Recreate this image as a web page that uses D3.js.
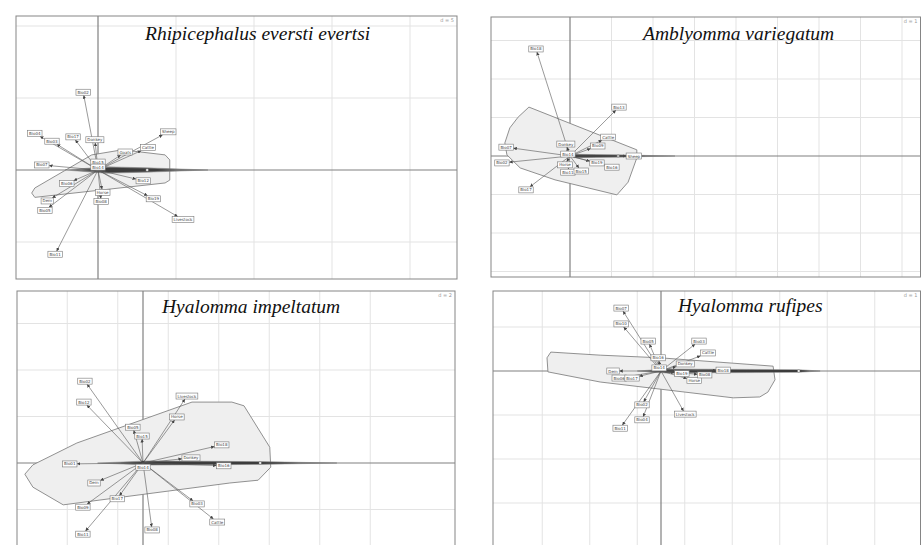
<!DOCTYPE html>
<html>
<head>
<meta charset="utf-8">
<script src="https://cdn.jsdelivr.net/npm/d3@7"></script>
<style>
  body { margin: 0; background: #fff; }
</style>
</head>
<body>
<svg id="chart" width="921" height="545"></svg>
<script>
// titles and scale notes
const titles = ["Rhipicephalus eversti evertsi", "Amblyomma variegatum", "Hyalomma impeltatum", "Hyalomma rufipes"];
const dLabels = ["d = 5", "d = 1", "d = 2", "d = 1"];

// panel 1 : R. evertsi evertsi (coordinates in grid units)
const evertsiNames = ["Bio02", "Bio04", "Bio03", "Bio17", "Donkey", "Bio15", "Bio14", "Goats", "Cattle", "Sheep",
  "Bio07", "Bio06", "Dem", "Bio05", "Horse", "Bio08", "Bio12", "Bio19", "Livestock", "Bio11"];
const evertsiX = [-0.19, -0.81, -0.59, -0.32, -0.04, 0, 0, 0.35, 0.64, 0.90, -0.72, -0.40, -0.65, -0.68, 0.06, 0.04, 0.58, 0.71, 1.09, -0.55];
const evertsiY = [1.08, 0.51, 0.40, 0.46, 0.42, 0.11, 0.04, 0.25, 0.31, 0.53, 0.07, -0.19, -0.43, -0.56, -0.31, -0.44, -0.15, -0.40, -0.69, -1.17];
const evertsiHull = [[-0.81, -0.25], [-0.08, 0.21], [0.31, 0.28], [0.86, 0.21], [0.92, 0.14], [0.92, -0.14], [0.86, -0.18], [-0.81, -0.38], [-0.85, -0.32]];
const evertsiSpindle = [-0.42, 1.41, 0.63];   // left tip, right tip, centre dot

// panel 2 : A. variegatum
const variegatumNames = ["Bio18", "Bio13", "Cattle", "Bio09", "Donkey", "Bio14", "Bio07", "Bio02", "Sheep", "Bio19",
  "Bio16", "Horse", "Bio11", "Bio15", "Bio17"];
const variegatumX = [-0.82, 1.18, 0.92, 0.67, -0.10, -0.05, -1.54, -1.64, 1.54, 0.65, 1.01, -0.12, -0.05, 0.27, -1.06];
const variegatumY = [2.78, 1.27, 0.49, 0.26, 0.31, 0.05, 0.23, -0.18, 0, -0.18, -0.29, -0.23, -0.42, -0.39, -0.88];
const variegatumHull = [[-0.99, 1.27], [1.61, 0.16], [1.61, -0.05], [1.40, -0.68], [1.13, -1.01], [-0.36, -0.62], [-1.20, -0.31],
  [-1.52, 0.03], [-1.57, 0.34], [-1.45, 0.73], [-1.25, 1.01]];
const variegatumSpindle = [0.05, 2.53, 1.16];

// panel 3 : H. impeltatum
const impeltatumNames = ["Bio02", "Bio12", "Livestock", "Horse", "Bio05", "Bio15", "Bio18", "Donkey", "Bio01", "Bio14",
  "Bio16", "Dem", "Bio17", "Bio09", "Bio03", "Cattle", "Bio11", "Bio08"];
const impeltatumX = [-1.15, -1.17, 0.87, 0.67, -0.20, -0.02, 1.56, 0.95, -1.45, 0, 1.60, -0.97, -0.51, -1.19, 1.07, 1.47, -1.19, 0.18];
const impeltatumY = [1.76, 1.31, 1.44, 0.99, 0.77, 0.58, 0.39, 0.11, -0.02, -0.09, -0.06, -0.43, -0.77, -0.95, -0.88, -1.27, -1.53, -1.44];
const impeltatumHull = [[-2.34, -0.24], [-2.18, -0.04], [-1.31, 0.43], [0.97, 1.31], [1.76, 1.31], [2.0, 1.23], [2.51, 0.34],
  [2.53, -0.09], [2.28, -0.37], [1.72, -0.43], [-1.58, -0.90], [-2.18, -0.52]];
const impeltatumSpindle = [-0.9, 3.84, 2.32];

// panel 4 : H. rufipes
const rufipesNames = ["Bio07", "Bio10", "Bio05", "Bio03", "Cattle", "Donkey", "Bio16", "Bio14", "Bio18", "Dem",
  "Bio06", "Bio17", "Bio19", "Horse", "Bio08", "Bio02", "Bio04", "Livestock", "Bio11"];
const rufipesX = [-0.84, -0.84, -0.27, 0.80, 0.99, 0.51, -0.06, -0.04, 1.31, -1.01, -0.88, -0.61, 0.44, 0.70, 0.92, -0.40, -0.40, 0.51, -0.86];
const rufipesY = [1.43, 1.07, 0.68, 0.68, 0.41, 0.16, 0.30, 0.07, 0.02, 0, -0.16, -0.16, -0.06, -0.22, -0.09, -0.77, -1.11, -0.98, -1.30];
const rufipesHull = [[-2.32, 0.43], [-1.28, 0.36], [-0.02, 0.30], [2.36, 0.11], [2.40, -0.20], [2.25, -0.48], [2.08, -0.59],
  [1.52, -0.61], [-1.28, -0.25], [-2.38, -0.02], [-2.40, 0.30]];
const rufipesSpindle = [-0.5, 3.35, 2.9];

// layout of the four panels (pixels)
const panels = [
  { names: evertsiNames, xs: evertsiX, ys: evertsiY, hull: evertsiHull, spindle: evertsiSpindle,
    frame: [16, 16, 457, 279], origin: [98, 170], unit: [78, 72], gridX: [1, 2, 3, 4], gridY: [2, 1, -1], title: [145, 40] },
  { names: variegatumNames, xs: variegatumX, ys: variegatumY, hull: variegatumHull, spindle: variegatumSpindle,
    frame: [491, 17, 920.5, 277], origin: [570, 156], unit: [41.5, 38.5], gridX: [1, 2, 3, 4, 5, 6, 7, 8], gridY: [3, 2, 1, -1, -2, -3], title: [643, 40] },
  { names: impeltatumNames, xs: impeltatumX, ys: impeltatumY, hull: impeltatumHull, spindle: impeltatumSpindle,
    frame: [17, 291, 455, 570], origin: [143, 463], unit: [50.5, 46.5], gridX: [-1.5, -0.5, 0.5, 1.5, 2.5, 3.5, 4.5], gridY: [3, 2, 1, -1, -2], title: [162, 313] },
  { names: rufipesNames, xs: rufipesX, ys: rufipesY, hull: rufipesHull, spindle: rufipesSpindle,
    frame: [493, 291, 920.5, 570], origin: [661, 371], unit: [47.5, 44], gridX: [-2.5, -1.5, -0.5, 0.5, 1.5, 2.5, 3.5, 4.5], gridY: [1, -1, -2, -3, -4], title: [678, 312] }
];

const svg = d3.select('#chart');
const defs = svg.append('defs');
defs.append('marker')
  .attr('id', 'head')
  .attr('viewBox', '0 0 10 10')
  .attr('refX', 10).attr('refY', 5)
  .attr('markerUnits', 'userSpaceOnUse')
  .attr('markerWidth', 3.5).attr('markerHeight', 3.5)
  .attr('orient', 'auto')
  .append('path').attr('d', 'M0,0L10,5L0,10z').attr('fill', '#444');

panels.forEach((p, i) => {
  const [fx0, fy0, fx1, fy1] = p.frame;
  const x = d3.scaleLinear().domain([0, 1]).range([p.origin[0], p.origin[0] + p.unit[0]]);
  const y = d3.scaleLinear().domain([0, 1]).range([p.origin[1], p.origin[1] - p.unit[1]]);

  defs.append('clipPath').attr('id', 'clip' + i)
    .append('rect').attr('x', fx0).attr('y', fy0).attr('width', fx1 - fx0).attr('height', fy1 - fy0);

  const g = svg.append('g').attr('clip-path', 'url(#clip' + i + ')');

  // grid
  g.selectAll('.gx').data(p.gridX).enter().append('line')
    .attr('x1', d => x(d)).attr('x2', d => x(d)).attr('y1', fy0).attr('y2', fy1)
    .attr('stroke', '#e3e3e3').attr('stroke-width', 1);
  g.selectAll('.gy').data(p.gridY).enter().append('line')
    .attr('y1', d => y(d)).attr('y2', d => y(d)).attr('x1', fx0).attr('x2', fx1)
    .attr('stroke', '#e3e3e3').attr('stroke-width', 1);

  // axes through the origin
  g.append('line').attr('x1', x(0)).attr('x2', x(0)).attr('y1', fy0).attr('y2', fy1)
    .attr('stroke', '#808080').attr('stroke-width', 1.2);
  g.append('line').attr('y1', y(0)).attr('y2', y(0)).attr('x1', fx0).attr('x2', fx1)
    .attr('stroke', '#808080').attr('stroke-width', 1.2);

  // title
  g.append('text')
    .attr('x', p.title[0]).attr('y', p.title[1])
    .attr('font-family', '"Liberation Serif", "DejaVu Serif", serif')
    .attr('font-style', 'italic').attr('font-size', 19.5).attr('fill', '#111')
    .text(titles[i]);

  // d = ...
  g.append('text')
    .attr('x', fx1 - 3).attr('y', fy0 + 6)
    .attr('text-anchor', 'end')
    .attr('font-family', 'DejaVu Sans, sans-serif').attr('font-size', 5).attr('fill', '#999')
    .text(dLabels[i]);

  // class hull
  g.append('path')
    .attr('d', d3.line().x(d => x(d[0])).y(d => y(d[1])).curve(d3.curveLinearClosed)(p.hull))
    .attr('fill', '#efefef').attr('stroke', '#858585').attr('stroke-width', 0.9);

  // presence spindle along the first axis
  const [sl, sr, sc] = p.spindle;
  const outer = [[sl, 0], [0.1, 0.045], [sc, 0.03], [sr, 0], [sc, -0.03], [0.1, -0.045]];
  const inner = [[sl * 0.5, 0], [0.15, 0.03], [sc, 0.02], [(sc + sr) / 2, 0], [sc, -0.02], [0.15, -0.03]];
  g.append('path')
    .attr('d', d3.line().x(d => x(d[0])).y(d => y(d[1])).curve(d3.curveLinearClosed)(outer))
    .attr('fill', '#7a7a7a').attr('stroke', '#666').attr('stroke-width', 0.4);
  g.append('path')
    .attr('d', d3.line().x(d => x(d[0])).y(d => y(d[1])).curve(d3.curveLinearClosed)(inner))
    .attr('fill', '#3c3c3c');
  g.append('circle').attr('cx', x(sc)).attr('cy', y(0)).attr('r', 1.3)
    .attr('fill', '#fff').attr('stroke', '#666').attr('stroke-width', 0.4);

  // labels and arrows
  const pts = p.names.map((n, k) => ({ name: n, px: x(p.xs[k]), py: y(p.ys[k]) }));
  const arrows = g.append('g');
  const labs = g.append('g');
  pts.forEach(d => {
    const lg = labs.append('g');
    const t = lg.append('text')
      .attr('x', d.px).attr('y', d.py + 1.5)
      .attr('text-anchor', 'middle')
      .attr('font-family', 'DejaVu Sans, sans-serif').attr('font-size', 4).attr('fill', '#444')
      .text(d.name);
    const w = t.node().getComputedTextLength() + 3;
    const h = 6;
    lg.insert('rect', 'text')
      .attr('x', d.px - w / 2).attr('y', d.py - h / 2).attr('width', w).attr('height', h)
      .attr('fill', '#fff').attr('stroke', '#777').attr('stroke-width', 0.6);
    const vx = d.px - x(0), vy = d.py - y(0);
    const tx = Math.abs(vx) > 0 ? 1 - (w / 2) / Math.abs(vx) : -Infinity;
    const ty = Math.abs(vy) > 0 ? 1 - (h / 2) / Math.abs(vy) : -Infinity;
    const te = Math.max(tx, ty);
    if (te > 0.05) {
      arrows.append('line')
        .attr('x1', x(0)).attr('y1', y(0))
        .attr('x2', x(0) + vx * te).attr('y2', y(0) + vy * te)
        .attr('stroke', '#555').attr('stroke-width', 0.6)
        .attr('marker-end', 'url(#head)');
    }
  });

  // frame
  svg.append('rect')
    .attr('x', fx0).attr('y', fy0).attr('width', fx1 - fx0).attr('height', fy1 - fy0)
    .attr('fill', 'none').attr('stroke', '#858585').attr('stroke-width', 1);
});
</script>
</body>
</html>
